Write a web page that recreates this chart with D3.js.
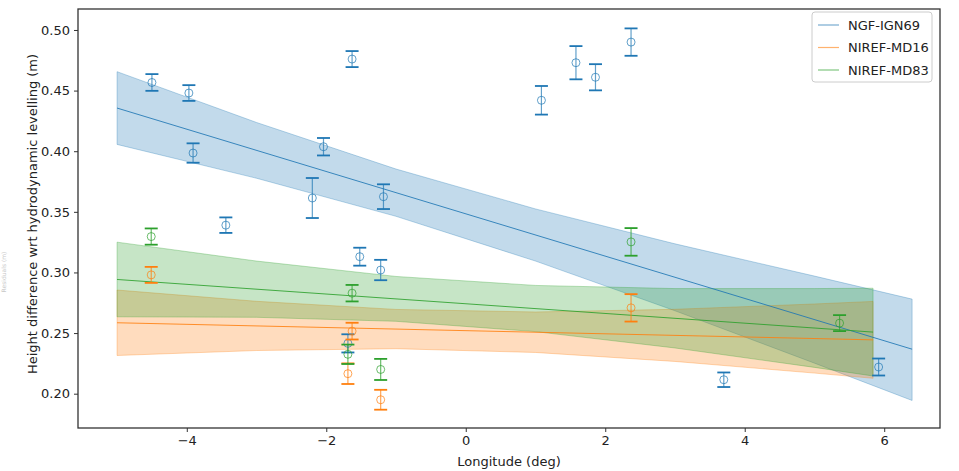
<!DOCTYPE html>
<html>
<head>
<meta charset="utf-8">
<script src="https://cdn.jsdelivr.net/npm/d3@7"></script>
<style>
  body { margin: 0; background: #fff; }
  text { font-family: "DejaVu Sans", sans-serif; fill: #222; }
</style>
</head>
<body>
<div id="chart"></div>
<script>
// tick labels
var lonTicks = [-4, -2, 0, 2, 4, 6];
var valTicks = [0.20, 0.25, 0.30, 0.35, 0.40, 0.45, 0.50];
var seriesNames = ["NGF-IGN69", "NIREF-MD16", "NIREF-MD83"];

// NGF-IGN69 stations
var ignLon = [-4.50, -3.97, -3.91, -3.44, -2.20, -2.04, -1.63, -1.52, -1.22, -1.18, -1.69, 1.085, 1.58, 1.86, 2.37, 3.70, 5.92];
var ignVal = [0.4567, 0.448, 0.3985, 0.339, 0.3614, 0.4037, 0.476, 0.313, 0.302, 0.3625, 0.2415, 0.442, 0.473, 0.461, 0.490, 0.2115, 0.222];
var ignErr = [0.0069, 0.0065, 0.008, 0.0064, 0.0165, 0.0072, 0.0066, 0.0074, 0.0084, 0.0102, 0.0075, 0.0118, 0.0137, 0.0108, 0.0113, 0.006, 0.007];

// NIREF-MD16 stations
var md16Lon = [-4.51, -1.63, -1.69, -1.22, 2.37];
var md16Val = [0.298, 0.2516, 0.2165, 0.195, 0.2708];
var md16Err = [0.0066, 0.0069, 0.0085, 0.0082, 0.0113];

// NIREF-MD83 stations
var md83Lon = [-4.51, -1.63, -1.69, -1.22, 2.37, 5.36];
var md83Val = [0.3296, 0.2829, 0.2325, 0.220, 0.3252, 0.2582];
var md83Err = [0.0067, 0.0068, 0.008, 0.0087, 0.0114, 0.0066];

// fitted lines and confidence bands
var ignFitLon = [-5, 6.4];
var ignFitVal = [0.4356, 0.2367];
var ignBandLon = [-5, -3, -1, 1, 3, 5, 6.4];
var ignBandLo = [0.4056, 0.3777, 0.3463, 0.3094, 0.2684, 0.2252, 0.1944];
var ignBandHi = [0.4656, 0.4237, 0.3853, 0.3524, 0.3236, 0.2970, 0.2780];

var md16FitLon = [-5, 5.84];
var md16FitVal = [0.2585, 0.2444];
var md16BandLon = [-5, -3, -1, 1, 3, 5, 5.84];
var md16BandLo = [0.2315, 0.2356, 0.2371, 0.2340, 0.2266, 0.2170, 0.2127];
var md16BandHi = [0.2855, 0.2762, 0.2695, 0.2674, 0.2696, 0.2740, 0.2761];

var md83FitLon = [-5, 5.84];
var md83FitVal = [0.2942, 0.2508];
var md83BandLon = [-5, -3, -1, 1, 3, 5, 5.84];
var md83BandLo = [0.2634, 0.2630, 0.2597, 0.2512, 0.2377, 0.2217, 0.2146];
var md83BandHi = [0.3250, 0.3094, 0.2967, 0.2893, 0.2867, 0.2867, 0.2870];

var colors = ["#1f77b4", "#ff7f0e", "#2ca02c"];

var w = 959, h = 471;
// plot box (note: "top" is taken by window.top, so prefixed names)
var pL = 78, pR = 940, pT = 9, pB = 428;

var svg = d3.select("#chart").append("svg")
	.attr("width", w)
	.attr("height", h);

var x = d3.scaleLinear().domain([-5.56, 6.80]).range([pL, pR]);
var y = d3.scaleLinear().domain([0.1717, 0.5173]).range([pB, pT]);

function zipPts(lon, val, err) {
	return lon.map((d, i) => ({lon: d, val: val[i], err: err ? err[i] : 0}));
}
function zipBand(lon, lo, hi) {
	return lon.map((d, i) => ({lon: d, lo: lo[i], hi: hi[i]}));
}

var series = [
	{name: seriesNames[0], col: colors[0], pts: zipPts(ignLon, ignVal, ignErr),
	 fit: zipPts(ignFitLon, ignFitVal), band: zipBand(ignBandLon, ignBandLo, ignBandHi)},
	{name: seriesNames[1], col: colors[1], pts: zipPts(md16Lon, md16Val, md16Err),
	 fit: zipPts(md16FitLon, md16FitVal), band: zipBand(md16BandLon, md16BandLo, md16BandHi)},
	{name: seriesNames[2], col: colors[2], pts: zipPts(md83Lon, md83Val, md83Err),
	 fit: zipPts(md83FitLon, md83FitVal), band: zipBand(md83BandLon, md83BandLo, md83BandHi)}
];

var area = d3.area()
	.x(d => x(d.lon))
	.y0(d => y(d.lo))
	.y1(d => y(d.hi));
var line = d3.line()
	.x(d => x(d.lon))
	.y(d => y(d.val));

// bands
svg.append("g").selectAll("path")
	.data(series)
	.enter().append("path")
	.attr("d", d => area(d.band))
	.attr("fill", d => d.col)
	.attr("fill-opacity", 0.27)
	.attr("stroke", d => d.col)
	.attr("stroke-opacity", 0.3)
	.attr("stroke-width", 1);

// fit lines
svg.append("g").selectAll("path")
	.data(series)
	.enter().append("path")
	.attr("d", d => line(d.fit))
	.attr("fill", "none")
	.attr("stroke", d => d.col)
	.attr("stroke-opacity", 0.85)
	.attr("stroke-width", 1);

// error bars
var capW = 6.5;
series.forEach(function(s) {
	var g = svg.append("g");
	var pt = g.selectAll("g").data(s.pts).enter().append("g");
	pt.append("line")
		.attr("x1", d => x(d.lon)).attr("x2", d => x(d.lon))
		.attr("y1", d => y(d.val - d.err)).attr("y2", d => y(d.val + d.err))
		.attr("stroke", s.col).attr("stroke-opacity", 0.7).attr("stroke-width", 1.2);
	pt.append("line")
		.attr("x1", d => x(d.lon) - capW).attr("x2", d => x(d.lon) + capW)
		.attr("y1", d => y(d.val - d.err)).attr("y2", d => y(d.val - d.err))
		.attr("stroke", s.col).attr("stroke-width", 1.8);
	pt.append("line")
		.attr("x1", d => x(d.lon) - capW).attr("x2", d => x(d.lon) + capW)
		.attr("y1", d => y(d.val + d.err)).attr("y2", d => y(d.val + d.err))
		.attr("stroke", s.col).attr("stroke-width", 1.8);
	pt.append("circle")
		.attr("cx", d => x(d.lon)).attr("cy", d => y(d.val))
		.attr("r", 4)
		.attr("fill", "none")
		.attr("stroke", s.col).attr("stroke-opacity", 0.7).attr("stroke-width", 1);
});

// axes
var xAxis = d3.axisBottom(x).tickValues(lonTicks).tickSize(4).tickPadding(4)
	.tickFormat(d => d < 0 ? "\u2212" + Math.abs(d) : d);
var yAxis = d3.axisLeft(y).tickValues(valTicks).tickSize(4).tickPadding(4)
	.tickFormat(d3.format(".2f"));

var gx = svg.append("g").attr("transform", "translate(0," + pB + ")").call(xAxis);
var gy = svg.append("g").attr("transform", "translate(" + pL + ",0)").call(yAxis);
[gx, gy].forEach(function(g) {
	g.select(".domain").remove();
	g.selectAll(".tick line").attr("stroke", "#333").attr("stroke-width", 1);
	g.selectAll(".tick text").attr("font-size", 13).style("fill", "#222")
		.attr("font-family", "DejaVu Sans");
});

// frame
svg.append("rect")
	.attr("x", pL).attr("y", pT)
	.attr("width", pR - pL).attr("height", pB - pT)
	.attr("fill", "none").attr("stroke", "#333").attr("stroke-width", 1.3);

// axis labels
svg.append("text")
	.attr("x", (pL + pR) / 2).attr("y", 466)
	.attr("text-anchor", "middle").attr("font-size", 13)
	.text("Longitude (deg)");
svg.append("text")
	.attr("transform", "translate(37,214) rotate(-90)")
	.attr("text-anchor", "middle").attr("font-size", 13)
	.text("Height difference wrt hydrodynamic levelling (m)");
// faint leftover label
svg.append("text")
	.attr("transform", "translate(6,272) rotate(-90)")
	.attr("text-anchor", "middle").attr("font-size", 6)
	.style("fill", "#c8c8c8")
	.text("Residuals (m)");

// legend
var lg = svg.append("g").attr("transform", "translate(812,12)");
lg.append("rect")
	.attr("width", 120).attr("height", 70).attr("rx", 3)
	.attr("fill", "#fff").attr("fill-opacity", 0.8)
	.attr("stroke", "#ccc").attr("stroke-width", 1);
var row = lg.selectAll("g.row").data(series).enter().append("g")
	.attr("class", "row")
	.attr("transform", (d, i) => "translate(0," + (13 + i * 22.5) + ")");
row.append("line")
	.attr("x1", 6).attr("x2", 27)
	.attr("stroke", d => d.col).attr("stroke-opacity", 0.6).attr("stroke-width", 1.2);
row.append("text")
	.attr("x", 36).attr("dy", "0.35em").attr("font-size", 13)
	.text(d => d.name);
</script>
</body>
</html>
